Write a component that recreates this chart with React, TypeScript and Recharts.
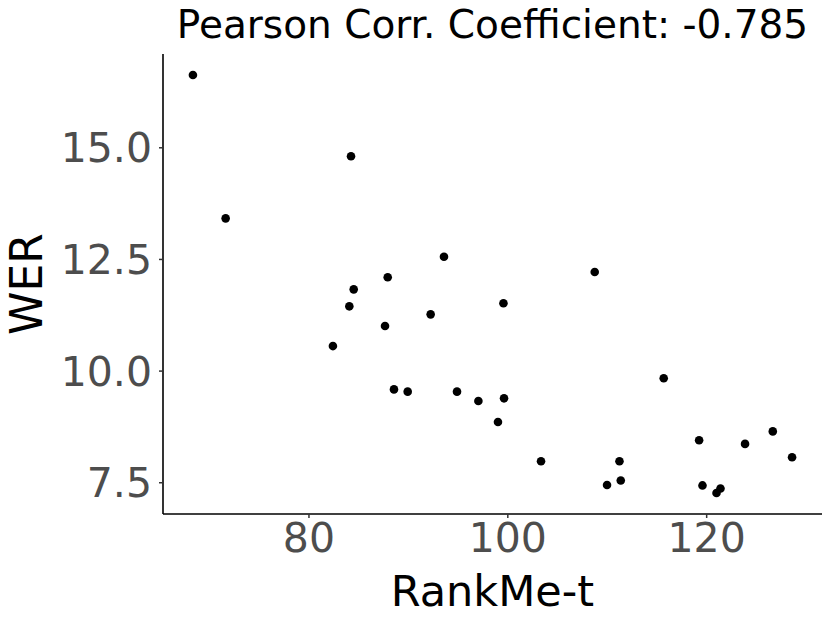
import { ScatterChart, Scatter, XAxis, YAxis } from 'recharts'

// RankMe-t vs WER
const rankMe = [
  68.33, 71.62, 84.23, 93.58, 87.92, 84.5, 84.06, 92.24, 87.65, 82.41,
  88.55, 89.93, 94.89, 97.04, 99.01, 99.56, 108.74, 99.62, 115.68, 103.34,
  111.23, 109.98, 111.36, 119.24, 119.58, 120.99, 121.39, 123.86, 126.65, 128.59,
]
const wer = [
  16.63, 13.42, 14.81, 12.56, 12.1, 11.83, 11.45, 11.27, 11.01, 10.56,
  9.59, 9.54, 9.54, 9.33, 8.86, 11.52, 12.22, 9.39, 9.84, 7.98,
  7.98, 7.45, 7.55, 8.45, 7.44, 7.27, 7.37, 8.37, 8.65, 8.07,
]
const xTicks = [80, 100, 120]
const yTicks = [7.5, 10, 12.5, 15]
const title = 'Pearson Corr. Coefficient: -0.785'

const data = rankMe.map((x, i) => ({ x, y: wer[i] }))

const FONT = '"DejaVu Sans", sans-serif'
const tickStyle = { fontFamily: FONT, fontSize: 41, fill: '#4d4d4d' }

// eslint-disable-next-line @typescript-eslint/no-explicit-any
function Dot(props: any) {
  return <circle cx={props.cx} cy={props.cy} r={4.3} fill="#000" />
}

// eslint-disable-next-line @typescript-eslint/no-explicit-any
function YTitle({ viewBox }: any) {
  const cx = 42
  const cy = viewBox.y + viewBox.height / 2
  return (
    <text
      x={cx}
      y={cy}
      transform={`rotate(-90 ${cx} ${cy})`}
      textAnchor="middle"
      fontFamily={FONT}
      fontSize={44}
      fill="#000"
    >
      WER
    </text>
  )
}

// eslint-disable-next-line @typescript-eslint/no-explicit-any
function XTitle({ viewBox }: any) {
  return (
    <text
      x={viewBox.x + viewBox.width / 2}
      y={606}
      textAnchor="middle"
      fontFamily={FONT}
      fontSize={43}
      fill="#000"
    >
      RankMe-t
    </text>
  )
}

export default function App() {
  return (
    <div style={{ position: 'absolute', left: 0, top: 0, width: 830, height: 623, background: '#fff' }}>
      <svg width={830} height={50} style={{ position: 'absolute', left: 0, top: 0 }}>
        <text x={492.5} y={38} textAnchor="middle" fontFamily={FONT} fontSize={39} fill="#000">
          {title}
        </text>
      </svg>
      <ScatterChart
        width={830}
        height={623}
        margin={{ top: 54, right: 8, bottom: 0, left: 0 }}
      >
        <XAxis
          type="number"
          dataKey="x"
          domain={[65.32, 131.6]}
          ticks={xTicks}
          allowDataOverflow
          height={109}
          tick={tickStyle}
          tickSize={4}
          tickMargin={5}
          axisLine={{ stroke: '#000', strokeWidth: 1.6 }}
          tickLine={{ stroke: '#333', strokeWidth: 1.5 }}
          label={{ content: <XTitle /> }}
        />
        <YAxis
          type="number"
          dataKey="y"
          domain={[6.8, 17.1]}
          ticks={yTicks}
          allowDataOverflow
          width={163}
          tick={tickStyle}
          tickSize={4}
          tickMargin={7}
          tickFormatter={(v) => Number(v).toFixed(1)}
          axisLine={{ stroke: '#000', strokeWidth: 1.6 }}
          tickLine={{ stroke: '#333', strokeWidth: 1.5 }}
          label={{ content: <YTitle /> }}
        />
        <Scatter data={data} shape={<Dot />} isAnimationActive={false} />
      </ScatterChart>
    </div>
  )
}
